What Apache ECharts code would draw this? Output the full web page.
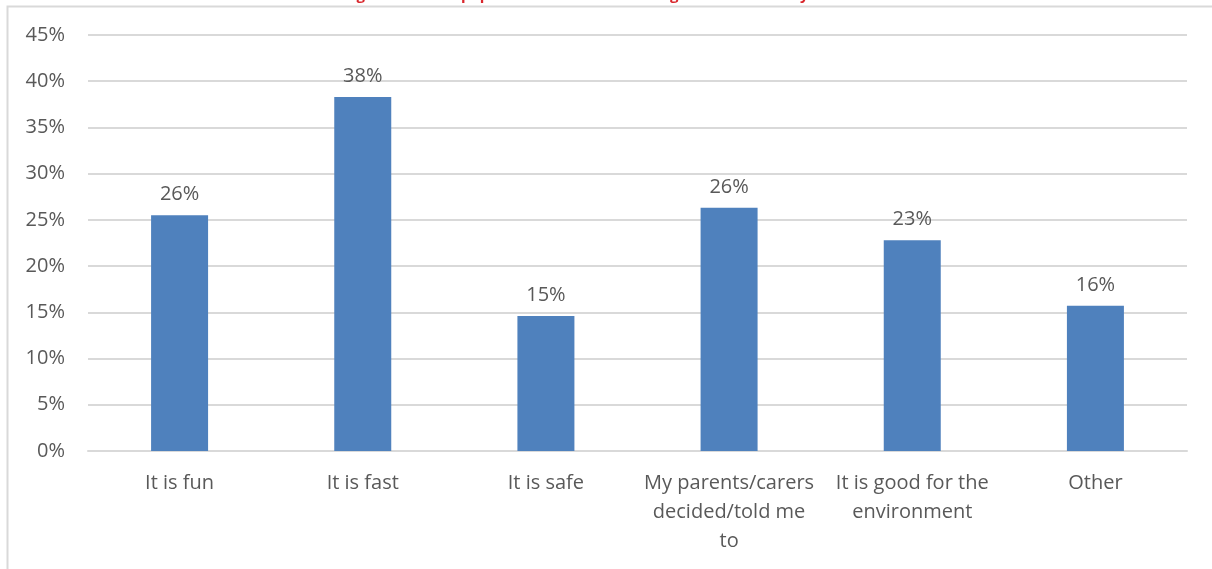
<!DOCTYPE html>
<html>
<head>
<meta charset="utf-8">
<script src="https://cdn.jsdelivr.net/npm/echarts@6/dist/echarts.min.js"></script>
<style>
  html, body { margin: 0; padding: 0; background: #ffffff; }
  #chart { width: 1212px; height: 569px; }
</style>
</head>
<body>
<div id="chart"></div>
<script>
// Reasons given for the way pupils travel to school (share of respondents, %)
const categories = [
  'It is fun',
  'It is fast',
  'It is safe',
  'My parents/carers\ndecided/told me\nto',
  'It is good for the\nenvironment',
  'Other'
];
const shares = [25.5, 38.3, 14.6, 26.3, 22.8, 15.7];
const yTicks = { min: 0, max: 45, interval: 5 };
const titleText = 'Figure 11: Most popular reasons for choosing to travel actively to school';

const textColor = '#595959';
const gridColor = '#d9d9d9';
const font = 'Open Sans';

const chart = echarts.init(document.getElementById('chart'), null, { renderer: 'canvas' });

chart.setOption({
  backgroundColor: '#ffffff',
  animation: false,
  graphic: [
    {
      type: 'rect',
      silent: true,
      shape: { x: 7.5, y: 6.5, width: 1400, height: 800 },
      style: { fill: 'none', stroke: gridColor, lineWidth: 2 }
    },
    {
      type: 'text',
      silent: true,
      x: 612,
      y: 3,
      style: {
        text: titleText,
        fill: '#d9262c',
        font: 'bold 15px "Open Sans"',
        align: 'center',
        verticalAlign: 'bottom'
      }
    }
  ],
  grid: { left: 88, right: 25, top: 35, bottom: 118, containLabel: false },
  xAxis: {
    type: 'category',
    data: categories,
    axisLine: { show: true, lineStyle: { color: gridColor, width: 2 } },
    axisTick: { show: false },
    axisLabel: {
      interval: 0,
      color: textColor,
      fontFamily: font,
      fontSize: 20,
      lineHeight: 29,
      margin: 18,
      align: 'center'
    }
  },
  yAxis: {
    type: 'value',
    min: yTicks.min,
    max: yTicks.max,
    interval: yTicks.interval,
    axisLine: { show: false },
    axisTick: { show: false },
    splitLine: { lineStyle: { color: gridColor, width: 2 } },
    axisLabel: {
      color: textColor,
      fontFamily: font,
      fontSize: 20,
      margin: 23,
      formatter: v => v + '%'
    }
  },
  series: [
    {
      type: 'bar',
      data: shares,
      barWidth: 57,
      itemStyle: { color: '#4f81bd' },
      label: {
        show: true,
        position: 'top',
        distance: 11,
        color: textColor,
        fontFamily: font,
        fontSize: 20,
        formatter: p => Math.round(p.value) + '%'
      }
    }
  ]
});
</script>
</body>
</html>
